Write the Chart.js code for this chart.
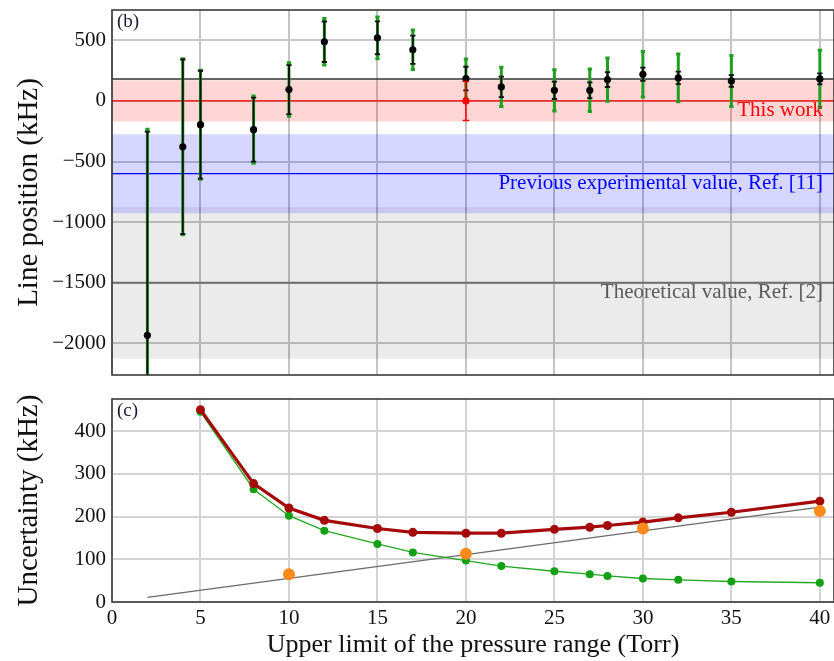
<!DOCTYPE html>
<html>
<head>
<meta charset="utf-8">
<script src="https://cdn.jsdelivr.net/npm/chart.js@4.4.0/dist/chart.umd.min.js"></script>
<style>
  html, body { margin: 0; padding: 0; background: #fff; }
  #wrap { position: relative; width: 834px; height: 661px; overflow: hidden; }
  #topChart { position: absolute; left: 0; top: 0; }
  #bottomChart { position: absolute; left: 0; top: 385px; }
</style>
</head>
<body>
<div id="wrap">
  <canvas id="topChart" width="834" height="380"></canvas>
  <canvas id="bottomChart" width="834" height="276"></canvas>
</div>
<script>
// pressure upper limits (Torr) and fitted line positions (kHz)
const pressure = [2, 4, 5, 8, 10, 12, 15, 17, 20, 22, 25, 27, 28, 30, 32, 35, 40];
const linePosition = [-1933, -378, -196, -237, 94, 488, 521, 422, 185, 116, 88, 88, 176, 220, 190, 165, 182];
const statUnc = [1680, 720, 445, 264, 202, 167, 136, 116, 97, 84, 72, 65, 61, 55, 52, 48, 45];
const totalUnc = [1700, 725, 450, 277, 220, 191, 172, 163, 161, 161, 170, 175, 179, 187, 197, 210, 236];

// panel (c) starts at 5 Torr
const uncStart = 2;

// systematic contribution
const sysPressure = [10, 20, 30, 40];
const sysUnc = [65, 113, 172, 213];
const sysLineP = [2, 40];
const sysLineU = [11, 222];

// reference values and bands (kHz)
const thisWork = { x: 20, value: 0, err: 161, band: 170 };
const prevExp = { value: -600, err: 326 };
const theory = { value: -1500, err: 625 };
const meanLine = 180;

// tick values
const posTicks = [-2000, -1500, -1000, -500, 0, 500];

const xMin = 0, xMax = 40.8;
const serif = "'Liberation Serif', 'DejaVu Serif', serif";

function errSegments(xs, ys, errs, cap) {
  const pts = [];
  xs.forEach((x, i) => {
    const lo = ys[i] - errs[i], hi = ys[i] + errs[i];
    pts.push({x: x, y: lo}, {x: x, y: hi}, {x: x, y: null});
    if (cap) {
      pts.push({x: x - cap, y: hi}, {x: x + cap, y: hi}, {x: x, y: null});
      pts.push({x: x - cap, y: lo}, {x: x + cap, y: lo}, {x: x, y: null});
    }
  });
  return pts;
}

function hLine(v) {
  return [{x: xMin, y: v}, {x: xMax, y: v}];
}

function minus(v) {
  return v < 0 ? '\u2212' + Math.abs(v) : String(v);
}

// keep the plot area fixed, labels may overhang
function noPad(s) {
  s.paddingTop = 0; s.paddingBottom = 0; s.paddingLeft = 0; s.paddingRight = 0;
}

const framePlugin = {
  id: 'frame',
  afterDraw(chart, args, opts) {
    const a = chart.chartArea, ctx = chart.ctx;
    ctx.save();
    ctx.strokeStyle = '#3a3a3a';
    ctx.lineWidth = 1.6;
    ctx.strokeRect(a.left, a.top, a.right - a.left, a.bottom - a.top);
    ctx.fillStyle = '#1a1a33';
    ctx.font = '19px ' + serif;
    ctx.textAlign = 'left';
    ctx.textBaseline = 'top';
    ctx.fillText(opts.label, a.left + 5, a.top + 3);
    ctx.restore();
  }
};

const bandLabels = {
  id: 'bandLabels',
  afterDatasetsDraw(chart) {
    const y = chart.scales.y, ctx = chart.ctx;
    const right = chart.chartArea.right - 11;
    ctx.save();
    ctx.font = '21px ' + serif;
    ctx.textAlign = 'right';
    ctx.textBaseline = 'top';
    ctx.fillStyle = '#ff0000';
    ctx.fillText('This work', right, y.getPixelForValue(thisWork.value) - 1);
    ctx.fillStyle = '#0000ff';
    ctx.fillText('Previous experimental value, Ref. [11]', right, y.getPixelForValue(prevExp.value) - 1);
    ctx.fillStyle = '#5a5a5a';
    ctx.fillText('Theoretical value, Ref. [2]', right, y.getPixelForValue(theory.value) - 1);
    ctx.restore();
  }
};

const plain = { pointRadius: 0, tension: 0, spanGaps: false };

new Chart(document.getElementById('topChart'), {
  type: 'line',
  data: {
    datasets: [
      Object.assign({ data: hLine(theory.value + theory.err), borderWidth: 0, borderColor: 'rgba(0,0,0,0)',
        fill: { value: theory.value - theory.err }, backgroundColor: 'rgba(0,0,0,0.08)', order: 100 }, plain),
      Object.assign({ data: hLine(prevExp.value + prevExp.err), borderWidth: 0, borderColor: 'rgba(0,0,0,0)',
        fill: { value: prevExp.value - prevExp.err }, backgroundColor: 'rgba(0,0,255,0.16)', order: 99 }, plain),
      Object.assign({ data: hLine(thisWork.value + thisWork.band), borderWidth: 0, borderColor: 'rgba(0,0,0,0)',
        fill: { value: thisWork.value - thisWork.band }, backgroundColor: 'rgba(255,0,0,0.16)', order: 98 }, plain),
      Object.assign({ data: hLine(theory.value), borderColor: '#6e6e6e', borderWidth: 2, order: 20 }, plain),
      Object.assign({ data: hLine(prevExp.value), borderColor: '#0000ff', borderWidth: 1.2, order: 19 }, plain),
      Object.assign({ data: hLine(thisWork.value), borderColor: '#ff0000', borderWidth: 1.2, order: 18 }, plain),
      Object.assign({ data: hLine(meanLine), borderColor: '#333333', borderWidth: 1.5, order: 17 }, plain),
      Object.assign({ data: errSegments(pressure, linePosition, totalUnc, 0.12),
        borderColor: '#1f9e1f', borderWidth: 3, order: 6 }, plain),
      Object.assign({ data: errSegments(pressure, linePosition, statUnc, 0.15),
        borderColor: '#111111', borderWidth: 1.8, order: 5 }, plain),
      { data: pressure.map((p, i) => ({x: p, y: linePosition[i]})), showLine: false,
        pointRadius: 3.6, pointBackgroundColor: '#000', pointBorderWidth: 0, order: 4 },
      Object.assign({ data: errSegments([thisWork.x], [thisWork.value], [thisWork.err], 0.18),
        borderColor: '#ff0000', borderWidth: 1.5, order: 3 }, plain),
      { data: [{x: thisWork.x, y: thisWork.value}], showLine: false,
        pointRadius: 3.6, pointBackgroundColor: '#ff0000', pointBorderWidth: 0, order: 2 }
    ]
  },
  options: {
    responsive: false,
    animation: false,
    layout: { autoPadding: false, padding: { top: 10, right: 0, bottom: 0, left: 0 } },
    plugins: { legend: { display: false }, tooltip: { enabled: false }, frame: { label: '(b)' } },
    scales: {
      x: {
        type: 'linear', min: xMin, max: xMax,
        ticks: { display: false, stepSize: 5, includeBounds: false },
        grid: { color: '#c4c4c4', lineWidth: 2, drawTicks: false },
        border: { display: false },
        afterFit(s) { s.height = 5; noPad(s); }
      },
      y: {
        min: -2260, max: 750,
        afterBuildTicks(s) { s.ticks = posTicks.map(v => ({ value: v })); },
        ticks: { padding: 6, color: '#111',
          font: { family: serif, size: 21 }, callback: v => minus(v) },
        grid: { color: '#c8c8c8', lineWidth: 2, drawTicks: false },
        border: { display: false },
        title: { display: true, text: 'Line position (kHz)', color: '#111',
          font: { family: serif, size: 29 }, padding: { top: 12, bottom: 4 } },
        afterFit(s) { s.width = 112; noPad(s); }
      }
    }
  },
  plugins: [framePlugin, bandLabels]
});

const uncP = pressure.slice(uncStart);

new Chart(document.getElementById('bottomChart'), {
  type: 'line',
  data: {
    datasets: [
      Object.assign({ data: sysLineP.map((p, i) => ({x: p, y: sysLineU[i]})),
        borderColor: '#6a6a6a', borderWidth: 1.2, order: 5 }, plain),
      { data: uncP.map((p, i) => ({x: p, y: statUnc[i + uncStart]})), borderColor: '#22a822',
        borderWidth: 1.3, pointRadius: 4, pointBackgroundColor: '#14a014', pointBorderWidth: 0, tension: 0, order: 4 },
      { data: uncP.map((p, i) => ({x: p, y: totalUnc[i + uncStart]})), borderColor: '#a50a0a',
        borderWidth: 3.2, pointRadius: 4.5, pointBackgroundColor: '#a50a0a', pointBorderWidth: 0, tension: 0, order: 3 },
      { data: sysPressure.map((p, i) => ({x: p, y: sysUnc[i]})), showLine: false,
        pointRadius: 6, pointBackgroundColor: '#ff8a1c', pointBorderWidth: 0, order: 2 }
    ]
  },
  options: {
    responsive: false,
    animation: false,
    layout: { autoPadding: false, padding: { top: 14, right: 0, bottom: 0, left: 0 } },
    plugins: { legend: { display: false }, tooltip: { enabled: false }, frame: { label: '(c)' } },
    scales: {
      x: {
        type: 'linear', min: xMin, max: xMax,
        ticks: { stepSize: 5, includeBounds: false, padding: 4, color: '#111', maxRotation: 0,
          font: { family: serif, size: 21 } },
        grid: { color: '#d4d4d4', lineWidth: 2, drawTicks: false },
        border: { display: false },
        title: { display: true, text: 'Upper limit of the pressure range (Torr)', color: '#111',
          font: { family: serif, size: 26 }, padding: { top: 0, bottom: 0 } },
        afterFit(s) { s.height = 59; noPad(s); }
      },
      y: {
        min: 0, max: 475,
        ticks: { stepSize: 50, includeBounds: false, padding: 6, color: '#111',
          font: { family: serif, size: 21 }, callback: v => (v % 100 === 0 ? String(v) : '') },
        grid: { color: '#d4d4d4', lineWidth: 2, drawTicks: false },
        border: { display: false },
        title: { display: true, text: 'Uncertainty (kHz)', color: '#111',
          font: { family: serif, size: 29 }, padding: { top: 12, bottom: 4 } },
        afterFit(s) { s.width = 112; noPad(s); }
      }
    }
  },
  plugins: [framePlugin]
});
</script>
</body>
</html>
